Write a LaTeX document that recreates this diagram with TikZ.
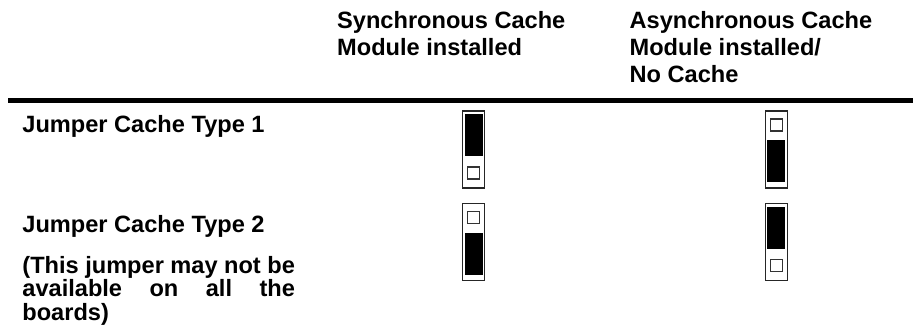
\documentclass[tikz,border=0pt]{standalone}
\usepackage{fontspec}
\setmainfont{Liberation Sans}
\usetikzlibrary{calc}

\tikzset{
  txt/.style={inner sep=0pt, anchor=base west,
    font=\fontsize{23.6}{27}\selectfont\bfseries},
  jumper/.style={draw=black!85, line width=1.2pt, fill=white,
    minimum width=22pt, minimum height=77pt, inner sep=0pt},
  pinsq/.style={draw=black!80, line width=1.1pt, fill=white,
    minimum size=12pt, inner sep=0pt},
  rule/.style={line width=5pt}
}

\begin{document}
% x/y in pixels, y grows downwards
\begin{tikzpicture}[x=1pt, y=-1pt]
  \useasboundingbox (0,0) rectangle (915,332);

  % column headings
  \node[txt] (h1a) at (337,28.5) {Synchronous Cache};
  \node[txt] (h1b) at (337,55.5) {Module installed};
  \node[txt] (h2a) at (629.4,28.5) {Asynchronous Cache};
  \node[txt] (h2b) at (629.4,55.5) {Module installed/};
  \node[txt] (h2c) at (629.4,82.5) {No Cache};

  % heading rule
  \coordinate (rl) at (8,100.5);
  \coordinate (rr) at (913,100.5);
  \draw[rule] (rl) -- (rr);

  % row labels
  \node[txt] (r1) at (22.2,132.5) {Jumper Cache Type 1};
  \node[txt] (r2) at (22.2,232.5) {Jumper Cache Type 2};
  \node[txt] (n1) at (22.2,273.5) {\makebox[272.5pt][s]{(This jumper may not be}};
  \node[txt] (n2) at (22.2,296.8) {\makebox[272.5pt][s]{available on all the}};
  \node[txt] (n3) at (22.2,320.2) {boards)};

  % jumper blocks
  \node[jumper] (j11) at (473.8,149.5) {};
  \node[jumper] (j12) at (776.3,149.5) {};
  \node[jumper] (j21) at (473.8,242) {};
  \node[jumper] (j22) at (776.3,242) {};

  % shorting cap on the upper pair, free pin below
  \foreach \j in {j11,j22}{
    \fill ($(\j.center)+(-9,-35.5)$) rectangle ++(18,42);
    \node[pinsq] (\j p) at ($(\j.center)+(0,23.5)$) {};
  }
  % shorting cap on the lower pair, free pin above
  \foreach \j in {j12,j21}{
    \fill ($(\j.center)+(-9,-9.3)$) rectangle ++(18,42);
    \node[pinsq] (\j p) at ($(\j.center)+(0,-24.5)$) {};
  }
\end{tikzpicture}
\end{document}
